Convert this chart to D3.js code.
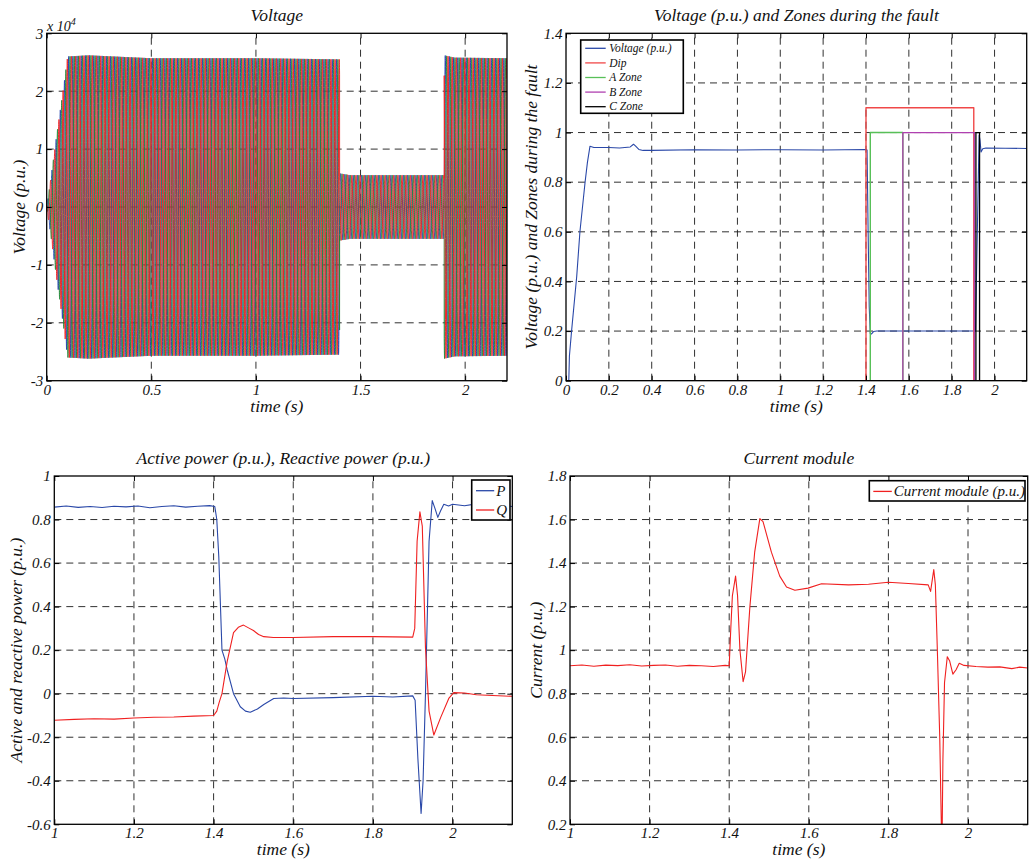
<!DOCTYPE html>
<html>
<head>
<meta charset="utf-8">
<script src="https://cdn.jsdelivr.net/npm/d3@7"></script>
<style>
  html, body { margin: 0; padding: 0; background: #fff; }
  svg { display: block; }
  svg text { font-family: "Liberation Serif", "Times New Roman", serif; font-style: italic; fill: #111; }
</style>
</head>
<body>
<svg id="fig" width="1032" height="865"></svg>
<script>
// ---------- Three-phase line voltage (x 10^4 V) ----------
// Peak envelope of the phase voltages over time
const envTime = [0, 0.02, 0.05, 0.08, 0.1, 0.2, 0.5, 1.0, 1.4, 1.4, 1.45, 1.9, 1.9, 1.95, 2.2];
const envPeak = [0, 0.5, 1.3, 2.05, 2.6, 2.62, 2.57, 2.57, 2.55, 0.58, 0.55, 0.55, 2.62, 2.58, 2.57];
const gridFreq = 50;                 // Hz
const phaseShiftDeg = [0, -120, 120];
const phaseColors = ["#2443b0", "#23893a", "#f02424"];

// ---------- Voltage (p.u.) and fault zones ----------
const vpuT = [0, 0.013, 0.016, 0.026, 0.05, 0.065, 0.089, 0.1, 0.112, 0.13, 0.2, 0.25, 0.3, 0.315, 0.325, 0.34, 0.36, 0.4, 0.6, 0.8, 1.0, 1.2, 1.4, 1.405, 1.41, 1.415, 1.42, 1.425, 1.435, 1.45, 1.6, 1.8, 1.905, 1.911, 1.92, 1.928, 1.932, 1.937, 1.945, 1.96, 2.05, 2.15];
const vpuV = [0, 0, 0.1, 0.2, 0.42, 0.6, 0.8, 0.88, 0.945, 0.94, 0.94, 0.938, 0.942, 0.953, 0.945, 0.932, 0.928, 0.928, 0.931, 0.93, 0.931, 0.93, 0.932, 0.93, 0.6, 0.3, 0.19, 0.188, 0.198, 0.2, 0.2, 0.2, 0.2, 0.2, 0.62, 0.99, 0.97, 0.922, 0.935, 0.938, 0.937, 0.936];
const dipT = [0, 1.4, 1.4, 1.903, 1.903, 2.15];
const dipV = [0, 0, 1.1, 1.1, 0, 0];
const zoneAT = [0, 1.42, 1.42, 1.572, 1.572, 2.15];
const zoneAV = [0, 0, 1, 1, 0, 0];
const zoneBT = [0, 1.572, 1.572, 1.906, 1.906, 2.15];
const zoneBV = [0, 0, 1, 1, 0, 0];
const zoneCT = [0, 1.913, 1.913, 1.93, 1.93, 2.15];
const zoneCV = [0, 0, 1, 1, 0, 0];
const zoneNames = ["Voltage (p.u.)", "Dip", "A Zone", "B Zone", "C Zone"];
const zoneColors = ["#2a48a8", "#f04848", "#58c058", "#b040b0", "#000000"];

// ---------- Active / reactive power (p.u.) ----------
const pT = [1.0, 1.03, 1.06, 1.09, 1.12, 1.15, 1.18, 1.21, 1.24, 1.27, 1.3, 1.33, 1.36, 1.39, 1.403, 1.408, 1.413, 1.421, 1.428, 1.434, 1.45, 1.467, 1.48, 1.492, 1.51, 1.526, 1.551, 1.576, 1.6, 1.7, 1.8, 1.85, 1.9, 1.906, 1.913, 1.921, 1.926, 1.932, 1.941, 1.949, 1.956, 1.963, 1.97, 1.978, 1.99, 2.0, 2.03, 2.06, 2.09, 2.12, 2.15];
const pV = [0.857, 0.862, 0.856, 0.86, 0.855, 0.861, 0.858, 0.862, 0.854, 0.86, 0.863, 0.857, 0.861, 0.864, 0.86, 0.8, 0.63, 0.2, 0.16, 0.11, 0.0, -0.06, -0.08, -0.085, -0.07, -0.05, -0.022, -0.02, -0.022, -0.018, -0.012, -0.015, -0.01, -0.03, -0.3, -0.55, -0.4, 0.0, 0.7, 0.887, 0.85, 0.81, 0.84, 0.87, 0.862, 0.87, 0.863, 0.872, 0.858, 0.866, 0.86];
const qT = [1.0, 1.05, 1.1, 1.15, 1.2, 1.25, 1.3, 1.35, 1.4, 1.408, 1.414, 1.421, 1.434, 1.45, 1.462, 1.475, 1.49, 1.5, 1.513, 1.526, 1.55, 1.6, 1.7, 1.8, 1.9, 1.905, 1.911, 1.918, 1.924, 1.932, 1.941, 1.953, 1.97, 1.991, 2.003, 2.03, 2.06, 2.1, 2.15];
const qV = [-0.122, -0.118, -0.115, -0.117, -0.112, -0.108, -0.107, -0.103, -0.1, -0.08, -0.04, 0.0, 0.147, 0.28, 0.305, 0.315, 0.3, 0.29, 0.272, 0.262, 0.258, 0.258, 0.262, 0.262, 0.26, 0.3, 0.7, 0.835, 0.77, 0.21, -0.08, -0.19, -0.11, -0.02, 0.005, 0.003, -0.005, -0.008, -0.012];

// ---------- Current module (p.u.) ----------
const iT = [1.0, 1.03, 1.06, 1.09, 1.12, 1.15, 1.18, 1.21, 1.24, 1.27, 1.3, 1.33, 1.36, 1.39, 1.4, 1.404, 1.408, 1.416, 1.421, 1.427, 1.435, 1.441, 1.452, 1.464, 1.477, 1.485, 1.506, 1.527, 1.544, 1.565, 1.598, 1.632, 1.7, 1.75, 1.8, 1.85, 1.9, 1.906, 1.914, 1.918, 1.923, 1.929, 1.933, 1.935, 1.937, 1.941, 1.948, 1.954, 1.962, 1.97, 1.978, 1.99, 2.02, 2.05, 2.08, 2.11, 2.13, 2.15];
const iV = [0.928, 0.932, 0.926, 0.931, 0.929, 0.933, 0.927, 0.93, 0.932, 0.926, 0.93, 0.928, 0.925, 0.93, 0.928, 1.1, 1.25, 1.34, 1.25, 1.0, 0.855, 0.9, 1.2, 1.45, 1.604, 1.59, 1.45, 1.34, 1.29, 1.275, 1.285, 1.305, 1.3, 1.303, 1.312, 1.306, 1.3, 1.27, 1.37, 1.3, 1.0, 0.6, 0.2, 0.15, 0.5, 0.85, 0.97, 0.95, 0.89, 0.91, 0.94, 0.93, 0.925, 0.922, 0.923, 0.915, 0.922, 0.918];

// ---------- Axis ticks ----------
const ticksTLx = [0, 0.5, 1, 1.5, 2];
const ticksTLy = [-3, -2, -1, 0, 1, 2, 3];
const ticksTRx = [0, 0.2, 0.4, 0.6, 0.8, 1, 1.2, 1.4, 1.6, 1.8, 2];
const ticksTRy = [0, 0.2, 0.4, 0.6, 0.8, 1, 1.2, 1.4];
const ticksBx = [1, 1.2, 1.4, 1.6, 1.8, 2];
const ticksBLy = [-0.6, -0.4, -0.2, 0, 0.2, 0.4, 0.6, 0.8, 1];
const ticksBRy = [0.2, 0.4, 0.6, 0.8, 1, 1.2, 1.4, 1.6, 1.8];

const svg = d3.select("#fig");
const fmt = d => String(+d.toFixed(2));
let clipId = 0;

function makePanel(cfg) {
  const x = d3.scaleLinear().domain(cfg.xDomain).range([cfg.x0, cfg.x1]);
  const y = d3.scaleLinear().domain(cfg.yDomain).range([cfg.y1, cfg.y0]);
  const g = svg.append("g");
  const w = cfg.x1 - cfg.x0, h = cfg.y1 - cfg.y0;

  // dashed grid
  const grid = g.append("g").attr("stroke", "#1a1a1a").attr("stroke-width", 0.9)
    .attr("stroke-dasharray", "7,5").attr("fill", "none");
  grid.selectAll("line.gx").data(cfg.xTicks.filter(t => t > cfg.xDomain[0] && t < cfg.xDomain[1]))
    .join("line").attr("x1", d => x(d)).attr("x2", d => x(d)).attr("y1", cfg.y1).attr("y2", cfg.y0);
  grid.selectAll("line.gy").data(cfg.yTicks.filter(t => t > cfg.yDomain[0] && t < cfg.yDomain[1]))
    .join("line").attr("y1", d => y(d)).attr("y2", d => y(d)).attr("x1", cfg.x0).attr("x2", cfg.x1);

  // series
  const id = "clip" + (clipId++);
  svg.append("clipPath").attr("id", id).append("rect")
    .attr("x", cfg.x0).attr("y", cfg.y0).attr("width", w).attr("height", h);
  const plot = g.append("g").attr("clip-path", `url(#${id})`);
  const line = d3.line().x(d => x(d[0])).y(d => y(d[1]));
  cfg.series.forEach(s => {
    plot.append("path").attr("d", line(s.points)).attr("fill", "none")
      .attr("stroke", s.color).attr("stroke-width", s.width || 1.1)
      .attr("stroke-linejoin", "round");
  });

  // axes with inward ticks on all sides
  const tl = -5;
  const axB = d3.axisBottom(x).tickValues(cfg.xTicks).tickSize(tl).tickFormat(cfg.xFmt || fmt).tickPadding(0);
  const axT = d3.axisTop(x).tickValues(cfg.xTicks).tickSize(tl).tickFormat("");
  const axL = d3.axisLeft(y).tickValues(cfg.yTicks).tickSize(tl).tickFormat(cfg.yFmt || fmt).tickPadding(0);
  const axR = d3.axisRight(y).tickValues(cfg.yTicks).tickSize(tl).tickFormat("");
  const style = sel => {
    sel.attr("font-family", null);
    sel.select(".domain").remove();
    sel.selectAll(".tick line").attr("stroke", "#000").attr("stroke-width", 1);
    sel.selectAll("text").attr("font-size", 15).attr("fill", "#111");
  };
  const gb = g.append("g").attr("transform", `translate(0,${cfg.y1})`).call(axB).call(style);
  gb.selectAll(".tick text").attr("y", 14).attr("dy", 0);
  g.append("g").attr("transform", `translate(0,${cfg.y0})`).call(axT).call(style);
  const gl = g.append("g").attr("transform", `translate(${cfg.x0},0)`).call(axL).call(style);
  gl.selectAll(".tick text").attr("x", -3.5).attr("dy", "0.32em");
  g.append("g").attr("transform", `translate(${cfg.x1},0)`).call(axR).call(style);

  // frame
  g.append("rect").attr("x", cfg.x0).attr("y", cfg.y0).attr("width", w).attr("height", h)
    .attr("fill", "none").attr("stroke", "#000").attr("stroke-width", 1.3);

  // title and axis labels
  g.append("text").attr("x", (cfg.x0 + cfg.x1) / 2).attr("y", cfg.y0 - 12)
    .attr("text-anchor", "middle").attr("font-size", 17.5).text(cfg.title);
  g.append("text").attr("x", (cfg.x0 + cfg.x1) / 2).attr("y", cfg.y1 + 31)
    .attr("text-anchor", "middle").attr("font-size", 17.5).text("time (s)");
  g.append("text").attr("transform", `translate(${cfg.yLabelX},${(cfg.y0 + cfg.y1) / 2}) rotate(-90)`)
    .attr("text-anchor", "middle").attr("font-size", 17.5).text(cfg.yLabel);

  return { g, x, y };
}

function legend(g, box, names, colors, opts) {
  const lg = g.append("g");
  lg.append("rect").attr("x", box.x).attr("y", box.y).attr("width", box.w).attr("height", box.h)
    .attr("fill", "#fff").attr("stroke", "#000").attr("stroke-width", 1.6);
  names.forEach((n, i) => {
    const cy = box.y + opts.first + i * opts.step;
    lg.append("line").attr("x1", box.x + opts.l0).attr("x2", box.x + opts.l1)
      .attr("y1", cy).attr("y2", cy).attr("stroke", colors[i]).attr("stroke-width", 1.3);
    lg.append("text").attr("x", box.x + opts.tx).attr("y", cy).attr("dy", "0.33em")
      .attr("font-size", opts.size).text(n);
  });
}

const zip = (a, b) => a.map((v, i) => [v, b[i]]);

// ---- Panel 1: instantaneous voltages ----
const envelope = d3.scaleLinear().domain(envTime).range(envPeak).clamp(true);
const tSamples = d3.range(0, 2.2 + 1e-9, 0.0002);
const phaseSeries = phaseShiftDeg.map((ph, k) => ({
  color: phaseColors[k], width: 0.95,
  points: tSamples.map(t => [t, envelope(t) * Math.sin(2 * Math.PI * gridFreq * t + ph * Math.PI / 180)])
}));
const p1 = makePanel({
  x0: 46.7, x1: 507, y0: 33.3, y1: 380.7, xDomain: [0, 2.2], yDomain: [-3, 3],
  xTicks: ticksTLx, yTicks: ticksTLy, title: "Voltage", yLabel: "Voltage (p.u.)", yLabelX: 25,
  series: phaseSeries
});
const expo = p1.g.append("text").attr("x", 47).attr("y", 31).attr("font-size", 14);
expo.append("tspan").text("x 10");
expo.append("tspan").attr("dy", -6).attr("font-size", 10).text("4");

// ---- Panel 2: voltage p.u. and zones ----
const p2 = makePanel({
  x0: 566, x1: 1026.7, y0: 33.3, y1: 380.7, xDomain: [0, 2.15], yDomain: [0, 1.4],
  xTicks: ticksTRx, yTicks: ticksTRy, title: "Voltage (p.u.) and Zones during the fault",
  yLabel: "Voltage (p.u.) and Zones during the fault", yLabelX: 537,
  series: [
    { color: zoneColors[0], points: zip(vpuT, vpuV) },
    { color: zoneColors[1], points: zip(dipT, dipV), width: 1.4 },
    { color: zoneColors[2], points: zip(zoneAT, zoneAV), width: 1.4 },
    { color: zoneColors[3], points: zip(zoneBT, zoneBV), width: 1.3 },
    { color: zoneColors[4], points: zip(zoneCT, zoneCV), width: 1.3 }
  ]
});
legend(p2.g, { x: 580.7, y: 40, w: 102.6, h: 73.3 }, zoneNames, zoneColors,
  { first: 8.3, step: 14.6, l0: 4.5, l1: 25, tx: 28.5, size: 11.5 });

// ---- Panel 3: active and reactive power ----
const p3 = makePanel({
  x0: 54.3, x1: 512.3, y0: 476, y1: 824.3, xDomain: [1, 2.15], yDomain: [-0.6, 1],
  xTicks: ticksBx, yTicks: ticksBLy, title: "Active power (p.u.), Reactive power (p.u.)",
  yLabel: "Active and reactive power (p.u.)", yLabelX: 22,
  series: [
    { color: "#2a48a8", points: zip(pT, pV) },
    { color: "#f02020", points: zip(qT, qV) }
  ]
});
legend(p3.g, { x: 471.7, y: 480, w: 38.3, h: 40 }, ["P", "Q"], ["#2a48a8", "#f02020"],
  { first: 10.7, step: 19.3, l0: 4.3, l1: 22.5, tx: 24.5, size: 15 });

// ---- Panel 4: current module ----
const p4 = makePanel({
  x0: 570, x1: 1027.7, y0: 476, y1: 824.3, xDomain: [1, 2.15], yDomain: [0.2, 1.8],
  xTicks: ticksBx, yTicks: ticksBRy, title: "Current module",
  yLabel: "Current (p.u.)", yLabelX: 542,
  series: [{ color: "#f02020", points: zip(iT, iV) }]
});
legend(p4.g, { x: 869.3, y: 480.7, w: 155.7, h: 20.3 }, ["Current module (p.u.)"], ["#f02020"],
  { first: 10.7, step: 0, l0: 4, l1: 22.5, tx: 24.5, size: 15 });
</script>
</body>
</html>
